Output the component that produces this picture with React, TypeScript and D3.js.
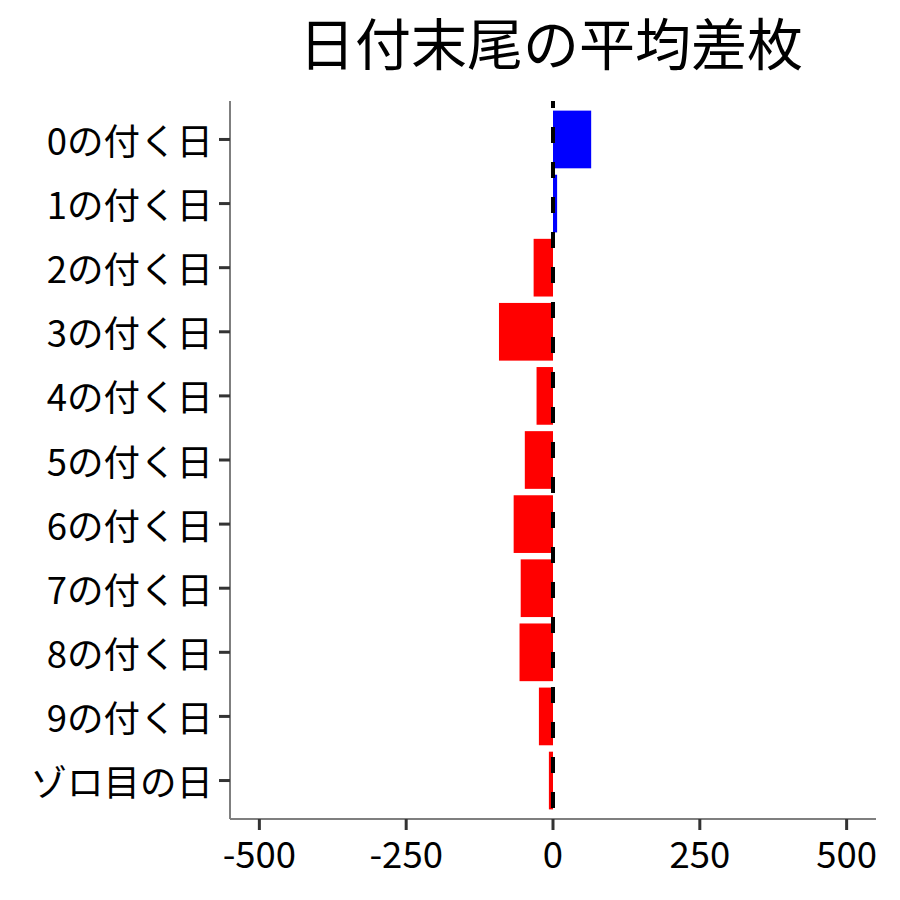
import React, { useEffect, useRef } from 'react';
import * as d3 from 'd3';

const categories = ['0の付く日', '1の付く日', '2の付く日', '3の付く日', '4の付く日', '5の付く日', '6の付く日', '7の付く日', '8の付く日', '9の付く日', 'ゾロ目の日'];
const values = [65, 7, -33, -92, -28, -48, -67, -55, -57, -24, -7];
const xTicks = [-500, -250, 0, 250, 500];
const title = '日付末尾の平均差枚';

const FONT = '"Noto Sans CJK JP", "Noto Sans", sans-serif';

export default function App() {
  const ref = useRef<SVGSVGElement>(null);

  useEffect(() => {
    if (!ref.current) return;
    const svg = d3.select(ref.current);
    svg.selectAll('*').remove();

    const panel = { left: 230, right: 876, top: 101, bottom: 819 };

    const x = d3.scaleLinear().domain([-550, 550]).range([panel.left, panel.right]);
    const y = d3.scaleBand<string>()
      .domain(categories)
      .range([panel.top, panel.bottom])
      .paddingInner(0.1)
      .paddingOuter(0.15);

    const data = categories.map((c, i) => ({ c, v: values[i] }));

    // bars
    svg.append('g').selectAll('rect').data(data).join('rect')
      .attr('x', d => x(Math.min(0, d.v)))
      .attr('width', d => Math.abs(x(d.v) - x(0)))
      .attr('y', d => y(d.c)!)
      .attr('height', y.bandwidth())
      .attr('fill', d => (d.v >= 0 ? '#0000FF' : '#FF0000'));

    // zero line
    svg.append('line')
      .attr('x1', x(0)).attr('x2', x(0))
      .attr('y1', panel.top).attr('y2', panel.bottom)
      .attr('stroke', '#000').attr('stroke-width', 4)
      .attr('stroke-dasharray', '16,19').attr('stroke-dashoffset', 9);

    // axis lines
    svg.append('line')
      .attr('x1', panel.left).attr('x2', panel.left)
      .attr('y1', panel.top).attr('y2', panel.bottom)
      .attr('stroke', '#7f7f7f').attr('stroke-width', 2);
    svg.append('line')
      .attr('x1', panel.left).attr('x2', panel.right)
      .attr('y1', panel.bottom).attr('y2', panel.bottom)
      .attr('stroke', '#7f7f7f').attr('stroke-width', 2);

    // y ticks + labels
    const yg = svg.append('g');
    categories.forEach(c => {
      const cy = y(c)! + y.bandwidth() / 2;
      yg.append('line')
        .attr('x1', panel.left - 11).attr('x2', panel.left)
        .attr('y1', cy).attr('y2', cy)
        .attr('stroke', '#333').attr('stroke-width', 3);
      yg.append('text')
        .attr('x', panel.left - 17).attr('y', cy)
        .attr('text-anchor', 'end').attr('dominant-baseline', 'central')
        .attr('font-family', FONT).attr('font-size', 36.5).attr('fill', '#000')
        .text(c);
    });

    // x ticks + labels
    const xg = svg.append('g');
    xTicks.forEach(t => {
      xg.append('line')
        .attr('x1', x(t)).attr('x2', x(t))
        .attr('y1', panel.bottom).attr('y2', panel.bottom + 11)
        .attr('stroke', '#333').attr('stroke-width', 3);
      xg.append('text')
        .attr('x', x(t)).attr('y', panel.bottom + 49)
        .attr('text-anchor', 'middle')
        .attr('font-family', FONT).attr('font-size', 36.5).attr('fill', '#000')
        .text(t);
    });

    // title
    svg.append('text')
      .attr('x', (panel.left + panel.right) / 2 - 2).attr('y', 65)
      .attr('text-anchor', 'middle')
      .attr('font-family', FONT).attr('font-size', 56).attr('fill', '#000')
      .text(title);
  }, []);

  return (
    <div style={{ position: 'absolute', left: 0, top: 0 }}>
      <svg ref={ref} width={900} height={900} style={{ display: 'block', background: '#fff' }} />
    </div>
  );
}
